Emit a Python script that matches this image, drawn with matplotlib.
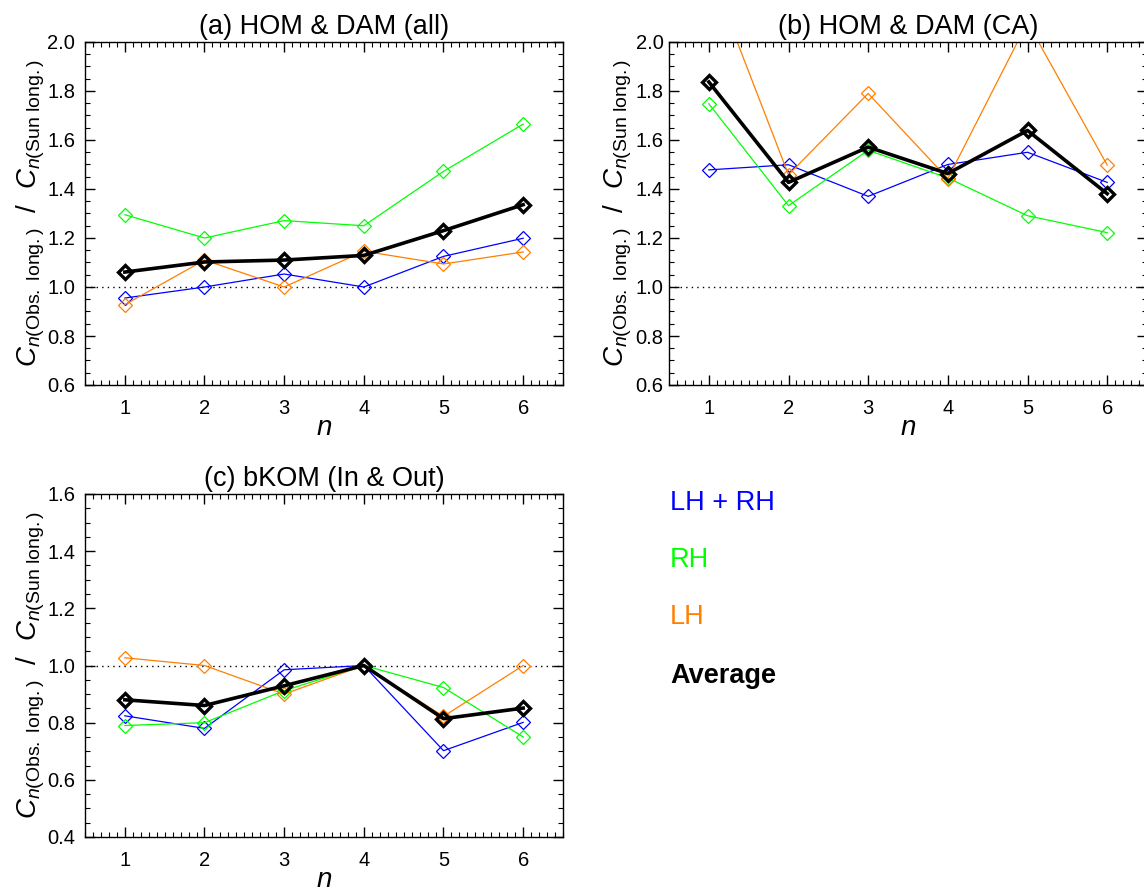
import matplotlib
matplotlib.use("Agg")
import matplotlib.pyplot as plt
from matplotlib.ticker import MultipleLocator

plt.rcParams['font.family'] = ['Liberation Sans', 'DejaVu Sans']
plt.rcParams['mathtext.fontset'] = 'custom'
plt.rcParams['mathtext.rm'] = 'Liberation Sans'
plt.rcParams['mathtext.it'] = 'Liberation Sans:italic'
plt.rcParams['mathtext.bf'] = 'Liberation Sans:bold'

n = [1, 2, 3, 4, 5, 6]

a_both = [0.955, 1.0, 1.053, 1.0, 1.125, 1.199]
a_rh = [1.295, 1.20, 1.271, 1.25, 1.472, 1.665]
a_lh = [0.928, 1.11, 1.0, 1.146, 1.094, 1.143]
a_avg = [1.061, 1.102, 1.11, 1.129, 1.23, 1.336]

b_both = [1.478, 1.499, 1.37, 1.50, 1.55, 1.427]
b_rh = [1.748, 1.332, 1.558, 1.445, 1.291, 1.222]
b_lh = [2.30, 1.458, 1.79, 1.442, 2.08, 1.498]
b_avg = [1.837, 1.427, 1.571, 1.463, 1.639, 1.381]

c_both = [0.824, 0.780, 0.985, 1.0, 0.702, 0.801]
c_rh = [0.79, 0.80, 0.912, 1.0, 0.923, 0.75]
c_lh = [1.027, 1.0, 0.90, 1.0, 0.822, 1.0]
c_avg = [0.880, 0.860, 0.929, 1.0, 0.814, 0.851]

titles = ["(a) HOM & DAM (all)", "(b) HOM & DAM (CA)", "(c) bKOM (In & Out)"]
legend_labels = ["LH + RH", "RH", "LH", "Average"]

C_BOTH = '#0000FF'
C_RH = '#00FF00'
C_LH = '#FF7F00'
C_AVG = '#000000'

W, H = 1144, 891
fig = plt.figure(figsize=(W / 100, H / 100), dpi=100)

def px_axes(left, top, right, bottom):
    return fig.add_axes([left / W, 1 - bottom / H, (right - left) / W, (bottom - top) / H])

ax_a = px_axes(85, 42, 563, 385)
ax_b = px_axes(669, 42, 1147, 385)
ax_c = px_axes(85, 494, 563, 837)

ylabel = r'$C_{n\mathrm{(Obs.\ long.)}}\ \ /\ \ C_{n\mathrm{(Sun\ long.)}}$'

def style(ax, ylim, title, ypad, lpad):
    ax.set_xlim(0.5, 6.5)
    ax.set_ylim(*ylim)
    ax.xaxis.set_major_locator(MultipleLocator(1))
    ax.xaxis.set_minor_locator(MultipleLocator(0.1))
    ax.yaxis.set_major_locator(MultipleLocator(0.2))
    ax.yaxis.set_minor_locator(MultipleLocator(0.05))
    ax.yaxis.set_major_formatter(matplotlib.ticker.FormatStrFormatter('%.1f'))
    ax.tick_params(which='both', direction='in', top=True, right=True, labelsize=14.5)
    ax.tick_params(which='major', length=7.5, width=1)
    ax.tick_params(which='minor', length=3.5, width=0.8)
    ax.tick_params(axis='x', pad=10)
    ax.tick_params(axis='y', pad=ypad)
    for s in ax.spines.values():
        s.set_linewidth(1.0)
    ax.axhline(1.0, color='black', linestyle=(0, (1, 3)), linewidth=1.0)
    ax.set_title(title, fontsize=19.5, pad=6)
    ax.set_xlabel(r'$n$', fontsize=20, labelpad=-2)
    ax.set_ylabel(ylabel, fontsize=20, labelpad=lpad)

def draw(ax, both, rh, lh, avg):
    kw = dict(marker='D', markersize=7, fillstyle='none', linewidth=0.9, markeredgewidth=0.9)
    ax.plot(n, both, color=C_BOTH, **kw)
    ax.plot(n, rh, color=C_RH, **kw)
    ax.plot(n, lh, color=C_LH, **kw)
    ax.plot(n, avg, color=C_AVG, marker='D', markersize=7, fillstyle='none',
            linewidth=2.6, markeredgewidth=2.4)

style(ax_a, (0.6, 2.0), titles[0], 7, 0)
draw(ax_a, a_both, a_rh, a_lh, a_avg)
style(ax_b, (0.6, 2.0), titles[1], 4, 1)
draw(ax_b, b_both, b_rh, b_lh, b_avg)
style(ax_c, (0.4, 1.6), titles[2], 7, 0)
draw(ax_c, c_both, c_rh, c_lh, c_avg)

leg_colors = [C_BOTH, C_RH, C_LH, C_AVG]
leg_y = [503, 560, 617, 676]
for lab, col, yy in zip(legend_labels, leg_colors, leg_y):
    fig.text(670 / W, 1 - yy / H, lab, color=col, fontsize=19.5,
             fontweight='bold' if lab == 'Average' else 'normal',
             ha='left', va='center')

fig.savefig('out.png', dpi=100)
